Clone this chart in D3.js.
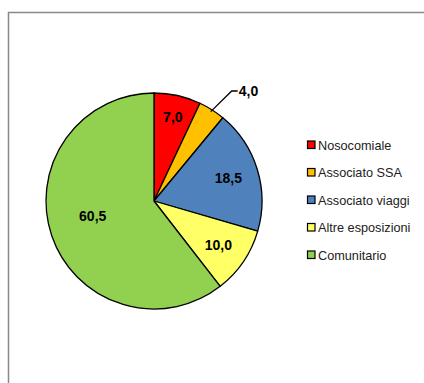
<!DOCTYPE html>
<html><head><meta charset="utf-8">
<script src="https://cdn.jsdelivr.net/npm/d3@7"></script>
<style>body{margin:0;background:#fff}svg{display:block}</style>
</head><body>
<script>
const categories = ["Nosocomiale","Associato SSA","Associato viaggi","Altre esposizioni","Comunitario"];
const values = [7.0, 4.0, 18.5, 10.0, 60.5];
const colors = ["#FF0000","#FFC000","#4F81BD","#FFFF66","#92D050"];
const labels = ["7,0","4,0","18,5","10,0","60,5"];

const W=424,H=383;
const svg=d3.select("body").append("svg").attr("width",W).attr("height",H);
svg.append("path").attr("d",`M8.5,${H} L8.5,12.5 L${W},12.5`).attr("fill","none").attr("stroke","#888").attr("stroke-width",1.5);

const cx=154, cy=201, r=108;
const pie=d3.pie().sort(null).value(d=>d)(values);
const arc=d3.arc().innerRadius(0).outerRadius(r);
const g=svg.append("g").attr("transform",`translate(${cx},${cy})`);
g.selectAll("path").data(pie).join("path").attr("d",arc)
 .attr("fill",(d,i)=>colors[i]).attr("stroke","#000").attr("stroke-width",1.3).attr("stroke-linejoin","round");

const font="'Liberation Sans', Arial, sans-serif";
const labelR=[0.8,0,0.72,0.72,0.6];
pie.forEach((d,i)=>{
  const a=(d.startAngle+d.endAngle)/2;
  if(i===1){
    const p0=[Math.sin(a)*r*0.98, -Math.cos(a)*r*0.98];
    const p1=[p0[0]+21, -110];
    g.append("path").attr("d",`M${p0[0]},${p0[1]} L${p1[0]},${p1[1]} L${p1[0]+6},${p1[1]}`)
      .attr("fill","none").attr("stroke","#000").attr("stroke-width",1.3);
    g.append("text").attr("x",p1[0]+7).attr("y",p1[1]+5).text(labels[i])
      .attr("font-family",font).attr("font-weight","bold").attr("font-size",14);
    return;
  }
  const rr=r*labelR[i];
  const dy = i===4 ? -1 : 5;
  g.append("text").attr("x",Math.sin(a)*rr).attr("y",-Math.cos(a)*rr+dy)
   .attr("text-anchor","middle").text(labels[i])
   .attr("font-family",font).attr("font-weight","bold").attr("font-size",14);
});

const leg=svg.append("g").attr("transform","translate(307,145)");
categories.forEach((c,i)=>{
  const y=i*27.5;
  leg.append("rect").attr("x",0.5).attr("y",y-4).attr("width",7.5).attr("height",7.5)
    .attr("fill",colors[i]).attr("stroke","#000").attr("stroke-width",1.2);
  leg.append("text").attr("x",11).attr("y",y+4.5).text(c)
    .attr("font-family",font).attr("font-size",12.7).attr("fill","#222");
});
</script>
</body></html>
